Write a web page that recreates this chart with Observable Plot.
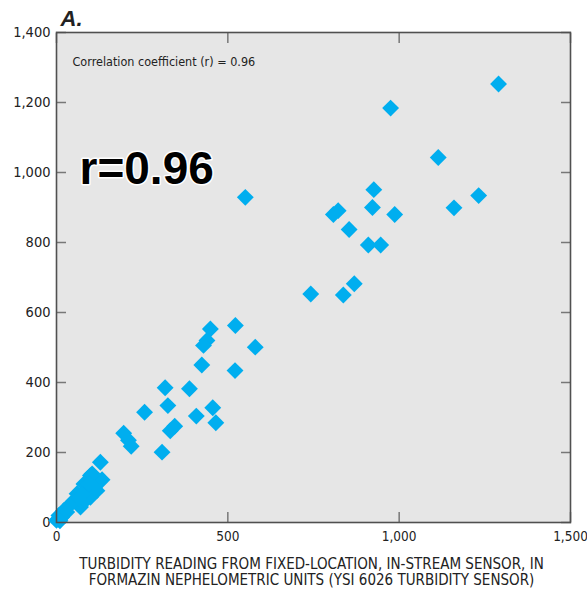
<!DOCTYPE html>
<html><head><meta charset="utf-8">
<script src="https://cdn.jsdelivr.net/npm/d3@7"></script>
<script src="https://cdn.jsdelivr.net/npm/@observablehq/plot@0.6"></script>
<style>body{margin:0;background:#fff}</style>
</head><body><div id="chart"></div>
<script>
const sensorReading = [1290, 975, 1114, 1232, 1160, 926, 922, 987, 808, 822, 854, 910, 946, 742, 837, 869, 551,
  449, 522, 439, 429, 580, 424, 521, 317, 388, 325, 257, 456, 408, 465, 332, 345, 308, 196, 210, 218, 128, 133,
  104, 99, 80, 60, 118, 99, 70, 41, 21, 7, 0, 84, 90, 50, 30, 15, 110, 75, 65, 95, 10, 5];
const referenceReading = [1253, 1184, 1043, 934, 899, 951, 900, 880, 880, 891, 837, 793, 793, 653, 650, 682, 929,
  553, 563, 520, 506, 501, 450, 434, 385, 382, 334, 315, 328, 304, 285, 262, 275, 201, 255, 235, 218, 172, 122,
  139, 134, 110, 82, 91, 72, 44, 53, 34, 20, 6, 63, 95, 60, 30, 15, 100, 80, 70, 110, 5, 10];
const xTicks = [0, 500, 1000, 1500];
const yTicks = [0, 200, 400, 600, 800, 1000, 1200, 1400];
const panelLabel = "A.";
const corrNote = "Correlation coefficient (r) = 0.96";
const bigNote = "r=0.96";
const xTitle = "TURBIDITY READING FROM FIXED-LOCATION, IN-STREAM SENSOR, IN\nFORMAZIN NEPHELOMETRIC UNITS (YSI 6026 TURBIDITY SENSOR)";

const data = sensorReading.map((x, i) => ({x, y: referenceReading[i]}));
const fmt = d3.format(",");
const narrow = "'Liberation Sans Narrow', 'DejaVu Sans Condensed', 'Arial Narrow', sans-serif";
const tickColor = "#777";

const chart = Plot.plot({
  width: 587,
  height: 590,
  marginLeft: 56,
  marginRight: 17,
  marginTop: 32,
  marginBottom: 68,
  style: {fontFamily: narrow, color: "#222", background: "#fff"},
  x: {domain: [0, 1500]},
  y: {domain: [0, 1400]},
  marks: [
    Plot.frame({fill: "#e6e6e6"}),
    // inward ticks
    Plot.axisX({anchor: "bottom", ticks: xTicks, tickSize: -10, tickFormat: () => "", label: null, stroke: tickColor, strokeWidth: 1.5}),
    Plot.axisX({anchor: "top", ticks: xTicks, tickSize: -10, tickFormat: () => "", label: null, stroke: tickColor, strokeWidth: 1.5}),
    Plot.axisY({anchor: "left", ticks: yTicks, tickSize: -10, tickFormat: () => "", label: null, stroke: tickColor, strokeWidth: 1.5}),
    Plot.axisY({anchor: "right", ticks: yTicks, tickSize: -10, tickFormat: () => "", label: null, stroke: tickColor, strokeWidth: 1.5}),
    // labels
    Plot.axisX({anchor: "bottom", ticks: xTicks, tickSize: 0, tickPadding: 9, tickFormat: fmt, fontSize: 13.5, label: null, fill: "#222"}),
    Plot.axisY({anchor: "left", ticks: yTicks, tickSize: 0, tickPadding: 6, tickFormat: fmt, fontSize: 14.5, label: null, fill: "#222"}),
    Plot.dot(data, {x: "x", y: "y", symbol: "diamond2", r: 7.6, fill: "#00aeef"}),
    Plot.frame({stroke: "#505050", strokeWidth: 1.6}),
    Plot.text([panelLabel], {frameAnchor: "top-left", textAnchor: "start", lineAnchor: "top", dx: 4, dy: -22,
      fontSize: 22, fontWeight: "bold", fontStyle: "italic", fontFamily: "'Liberation Sans', Arial, sans-serif", fill: "#222"}),
    Plot.text([corrNote], {frameAnchor: "top-left", textAnchor: "start", lineAnchor: "top", dx: 16, dy: 25,
      fontSize: 12.5, fill: "#222"}),
    Plot.text([bigNote], {frameAnchor: "top-left", textAnchor: "start", lineAnchor: "top", dx: 23, dy: 119,
      fontSize: 46, fontWeight: "bold", fontFamily: "'Liberation Sans', Arial, sans-serif", fill: "#000",
      stroke: "#fff", strokeWidth: 3}),
    Plot.text([xTitle], {frameAnchor: "bottom", textAnchor: "middle", lineAnchor: "top", dy: 35, dx: -2,
      fontSize: 15, lineHeight: 1.08, fill: "#222"})
  ]
});
document.getElementById("chart").append(chart);
</script>
</body></html>
